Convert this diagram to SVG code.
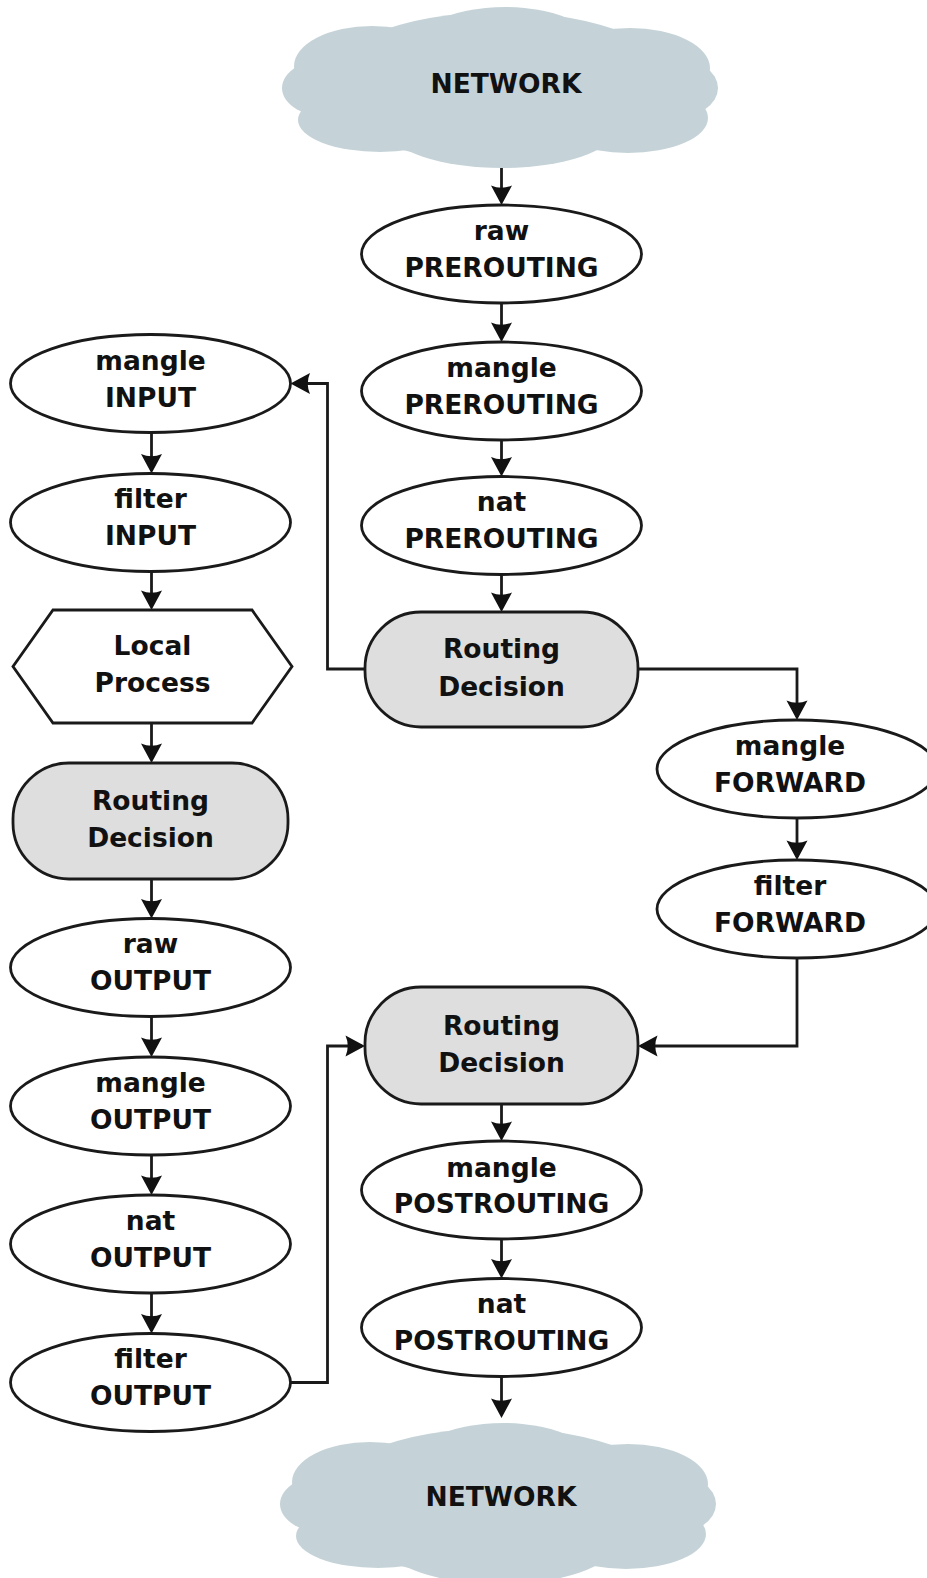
<svg xmlns="http://www.w3.org/2000/svg" xmlns:xlink="http://www.w3.org/1999/xlink" width="927" height="1578" viewBox="0 0 927 1578">
<style>
.n{fill:#fff;stroke:#1a1a1a;stroke-width:2.8}
.g{fill:#dedede;stroke:#1a1a1a;stroke-width:2.8}
.t{font-family:"DejaVu Sans",Verdana,sans-serif;font-weight:bold;font-size:26.5px;fill:#111;text-anchor:middle}
.c{fill:none;stroke:#1a1a1a;stroke-width:2.8;marker-end:url(#arr)}
.cl{fill:#c5d3d8}
</style>
<defs>
<marker id="arr" markerUnits="userSpaceOnUse" markerWidth="24" markerHeight="24" refX="19" refY="12" orient="auto">
<path d="M22,12 L2.5,1.5 Q7,12 2.5,22.5 Z" fill="#111"/>
</marker>
<g id="cloud">
<ellipse class="cl" cx="500" cy="87" rx="180" ry="75"/>
<ellipse class="cl" cx="505" cy="57" rx="100" ry="50"/>
<ellipse class="cl" cx="372" cy="66" rx="78" ry="40"/>
<ellipse class="cl" cx="630" cy="68" rx="80" ry="40"/>
<ellipse class="cl" cx="332" cy="88" rx="50" ry="30"/>
<ellipse class="cl" cx="674" cy="88" rx="44" ry="30"/>
<ellipse class="cl" cx="380" cy="120" rx="82" ry="32"/>
<ellipse class="cl" cx="502" cy="130" rx="112" ry="38"/>
<ellipse class="cl" cx="628" cy="118" rx="80" ry="35"/>
</g>
</defs>
<rect width="927" height="1578" fill="#fff"/>

<g id="connectors">
<path class="c" d="M501.5,166 V202"/>
<path class="c" d="M501.5,303 V339"/>
<path class="c" d="M501.5,440 V473.5"/>
<path class="c" d="M501.5,574.5 V609"/>
<path class="c" d="M501.5,1103 V1138"/>
<path class="c" d="M501.5,1239 V1275.5"/>
<path class="c" d="M501.5,1376.5 V1415"/>
<path class="c" d="M151.5,432.5 V470.5"/>
<path class="c" d="M151.5,571.5 V607"/>
<path class="c" d="M151.5,723 V760"/>
<path class="c" d="M151.5,879 V915.5"/>
<path class="c" d="M151.5,1016.5 V1054"/>
<path class="c" d="M151.5,1155 V1192"/>
<path class="c" d="M151.5,1293 V1330.5"/>
<path class="c" d="M638,669 H797 V717"/>
<path class="c" d="M797,818 V857"/>
<path class="c" d="M797,958 V1046 H641"/>
<path class="c" d="M365,669 H327.5 V383.5 H293.5"/>
<path class="c" d="M290.5,1382.5 H327.5 V1046 H362"/>
</g>

<g id="network-top">
<use xlink:href="#cloud" href="#cloud"/>
<text class="t" x="506" y="93">NETWORK</text>
</g>
<g id="raw-prerouting">
<ellipse class="n" cx="501.5" cy="254" rx="140" ry="49"/>
<text class="t" x="501.5" y="240">raw</text><text class="t" x="501.5" y="277">PREROUTING</text>
</g>
<g id="mangle-prerouting">
<ellipse class="n" cx="501.5" cy="391" rx="140" ry="49"/>
<text class="t" x="501.5" y="377">mangle</text><text class="t" x="501.5" y="414">PREROUTING</text>
</g>
<g id="nat-prerouting">
<ellipse class="n" cx="501.5" cy="525.5" rx="140" ry="49"/>
<text class="t" x="501.5" y="511">nat</text><text class="t" x="501.5" y="548">PREROUTING</text>
</g>
<g id="routing-main">
<rect class="g" x="365" y="612" width="273" height="115" rx="56" ry="56"/>
<text class="t" x="501.5" y="658">Routing</text><text class="t" x="501.5" y="696">Decision</text>
</g>
<g id="mangle-input">
<ellipse class="n" cx="150.5" cy="383.5" rx="140" ry="49"/>
<text class="t" x="150.5" y="370">mangle</text><text class="t" x="150.5" y="407">INPUT</text>
</g>
<g id="filter-input">
<ellipse class="n" cx="150.5" cy="522.5" rx="140" ry="49"/>
<text class="t" x="150.5" y="508">filter</text><text class="t" x="150.5" y="545">INPUT</text>
</g>
<g id="local-process">
<polygon class="n" points="53,610 252,610 292,666.5 252,723 53,723 13,666.5"/>
<text class="t" x="152.5" y="655">Local</text><text class="t" x="152.5" y="692">Process</text>
</g>
<g id="routing-left">
<rect class="g" x="13" y="763" width="275" height="116" rx="56" ry="56"/>
<text class="t" x="150.5" y="810">Routing</text><text class="t" x="150.5" y="847">Decision</text>
</g>
<g id="raw-output">
<ellipse class="n" cx="150.5" cy="967.5" rx="140" ry="49"/>
<text class="t" x="150.5" y="953">raw</text><text class="t" x="150.5" y="990">OUTPUT</text>
</g>
<g id="mangle-output">
<ellipse class="n" cx="150.5" cy="1106" rx="140" ry="49"/>
<text class="t" x="150.5" y="1092">mangle</text><text class="t" x="150.5" y="1129">OUTPUT</text>
</g>
<g id="nat-output">
<ellipse class="n" cx="150.5" cy="1244" rx="140" ry="49"/>
<text class="t" x="150.5" y="1230">nat</text><text class="t" x="150.5" y="1267">OUTPUT</text>
</g>
<g id="filter-output">
<ellipse class="n" cx="150.5" cy="1382.5" rx="140" ry="49"/>
<text class="t" x="150.5" y="1368">filter</text><text class="t" x="150.5" y="1405">OUTPUT</text>
</g>
<g id="mangle-forward">
<ellipse class="n" cx="797" cy="769" rx="140" ry="49"/>
<text class="t" x="790" y="755">mangle</text><text class="t" x="790" y="792">FORWARD</text>
</g>
<g id="filter-forward">
<ellipse class="n" cx="797" cy="909" rx="140" ry="49"/>
<text class="t" x="790" y="895">filter</text><text class="t" x="790" y="932">FORWARD</text>
</g>
<g id="routing-lower">
<rect class="g" x="365" y="987" width="273" height="117" rx="56" ry="56"/>
<text class="t" x="501.5" y="1035">Routing</text><text class="t" x="501.5" y="1072">Decision</text>
</g>
<g id="mangle-postrouting">
<ellipse class="n" cx="501.5" cy="1190" rx="140" ry="49"/>
<text class="t" x="501.5" y="1177">mangle</text><text class="t" x="501.5" y="1213">POSTROUTING</text>
</g>
<g id="nat-postrouting">
<ellipse class="n" cx="501.5" cy="1327.5" rx="140" ry="49"/>
<text class="t" x="501.5" y="1313">nat</text><text class="t" x="501.5" y="1350">POSTROUTING</text>
</g>
<g id="network-bottom">
<use xlink:href="#cloud" href="#cloud" transform="translate(-2,1416)"/>
<text class="t" x="501" y="1506">NETWORK</text>
</g>
</svg>
